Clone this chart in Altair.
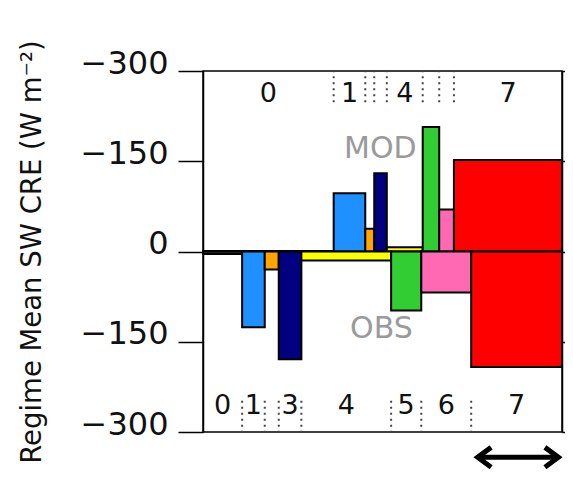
import altair as alt
import numpy as np
import pandas as pd

# ---- data ----
regimes = [0, 1, 2, 3, 4, 5, 6, 7]
regime_colors = ["#3a3a3a", "#1E90FF", "#FFA500", "#000080",
                 "#FFFF00", "#32CD32", "#FF69B4", "#FF0000"]
mod_freq = [0.364, 0.088, 0.025, 0.035, 0.100, 0.046, 0.041, 0.301]
mod_cre = [-1, -97, -38, -130, -7, -207, -70, -152]
obs_freq = [0.109, 0.063, 0.039, 0.063, 0.250, 0.084, 0.139, 0.253]
obs_cre = [-4, -126, -30, -179, -15, -98, -68, -192]

y_ticks = [-300, -150, 0, 150, 300]
y_title = "Regime Mean SW CRE (W m\u207b\u00b2)"
min_label_freq = 0.05
label_y = {"MOD": 262, "OBS": -256}
sep_y = {"MOD": (248, 300), "OBS": (-248, -300)}
panel_text = ["MOD", "OBS"]
panel_text_x = [0.494, 0.497]
panel_text_y = [170, -129]
arrow_x = [0.765, 0.990]
arrow_y = -342

FONT = "DejaVu Sans"

# ---- tables built from the arrays ----
def panel(name, freq, cre, sign):
    freq = np.array(freq, dtype=float)
    x1 = np.cumsum(freq)
    x0 = x1 - freq
    return pd.DataFrame({
        "panel": name, "regime": regimes, "color": regime_colors,
        "freq": freq, "x0": x0, "x1": x1, "xm": (x0 + x1) / 2,
        "base": 0.0, "val": sign * np.array(cre, dtype=float),
        "ly": label_y[name], "s0": sep_y[name][0], "s1": sep_y[name][1],
    })

bars = pd.concat([panel("MOD", mod_freq, mod_cre, -1),
                  panel("OBS", obs_freq, obs_cre, 1)], ignore_index=True)
labels = bars[bars["freq"] >= min_label_freq]
seps = bars[bars["regime"] < 7]
ptext = pd.DataFrame({"t": panel_text, "x": panel_text_x, "y": panel_text_y})
arrow = pd.DataFrame({"x": [arrow_x[0]], "x2": [arrow_x[1]], "y": [arrow_y]})
heads = pd.DataFrame({"x": arrow_x, "y": [arrow_y, arrow_y],
                      "shape": ["M1.5,-1.1L0,0L1.5,1.1", "M-1.5,-1.1L0,0L-1.5,1.1"]})

xs = alt.Scale(domain=[0, 1], nice=False, zero=False)
ys = alt.Scale(domain=[-300, 300], nice=False, zero=False)
label_expr = "datum.value == 0 ? '0' : '\u2212' + abs(datum.value)"
left_axis = alt.Axis(values=y_ticks, labelExpr=label_expr, title=y_title,
                     grid=False, tickSize=25, tickWidth=1.5, tickColor="black",
                     domainColor="black", domainWidth=1.5,
                     labelFontSize=32, labelFont=FONT, labelColor="#111111",
                     labelPadding=10, labelBaseline="alphabetic", labelOffset=2,
                     labelOverlap=False, labelFlush=False,
                     titleFontSize=27.5, titleFont=FONT, titleFontWeight="normal",
                     titleColor="#111111", titlePadding=34)

def X(f):
    return alt.X(f, type="quantitative", scale=xs, axis=None)

def Y(f):
    return alt.Y(f, type="quantitative", scale=ys, axis=left_axis)

zero = alt.Chart(pd.DataFrame({"y": [0]})).mark_rule(
    color="black", strokeWidth=1.5).encode(y=Y("y"))

rects = alt.Chart(bars).mark_rect(stroke="black", strokeWidth=2).encode(
    x=X("x0"), x2="x1", y=Y("base"), y2="val",
    color=alt.Color("color:N", scale=None))

sep = alt.Chart(seps).mark_rule(color="#444444", strokeWidth=2,
                                strokeDash=[2, 4]).encode(
    x=X("x1"), y=Y("s0"), y2="s1")

nums = alt.Chart(labels).mark_text(font=FONT, fontSize=27, color="#111111",
                                   baseline="middle", align="center").encode(
    x=X("xm"), y=Y("ly"), text="regime:N")

ptxt = alt.Chart(ptext).mark_text(font=FONT, fontSize=30, color="#9a9a9a",
                                  baseline="middle", align="center").encode(
    x=X("x"), y=Y("y"), text="t:N")

arr = alt.Chart(arrow).mark_rule(color="black", strokeWidth=5).encode(
    x=X("x"), x2="x2", y=Y("y"))
arrh = alt.Chart(heads).mark_point(filled=False, stroke="black", strokeWidth=5,
                                   size=324, opacity=1, strokeJoin="miter").encode(
    x=X("x"), y=Y("y"), shape=alt.Shape("shape:N", scale=None))

inner = alt.layer(zero, rects, sep, nums, ptxt, arr, arrh)

right = alt.Chart(pd.DataFrame({"y": [0]})).mark_rule(opacity=0).encode(
    y=alt.Y("y:Q", scale=ys,
            axis=alt.Axis(orient="right", values=y_ticks, labels=False,
                          title=None, grid=False, tickSize=25, tickWidth=1.5,
                          tickColor="black", domainColor="black",
                          domainWidth=1.5)))

chart = alt.layer(inner, right).resolve_scale(y="independent").properties(
    width=359, height=361,
    autosize=alt.AutoSizeParams(type="none"),
    padding={"left": 195, "top": 63, "right": 3, "bottom": 37},
).configure_view(stroke="black", strokeWidth=1.5)

chart.save("out.html", embed_options={"renderer": "svg", "actions": False})
